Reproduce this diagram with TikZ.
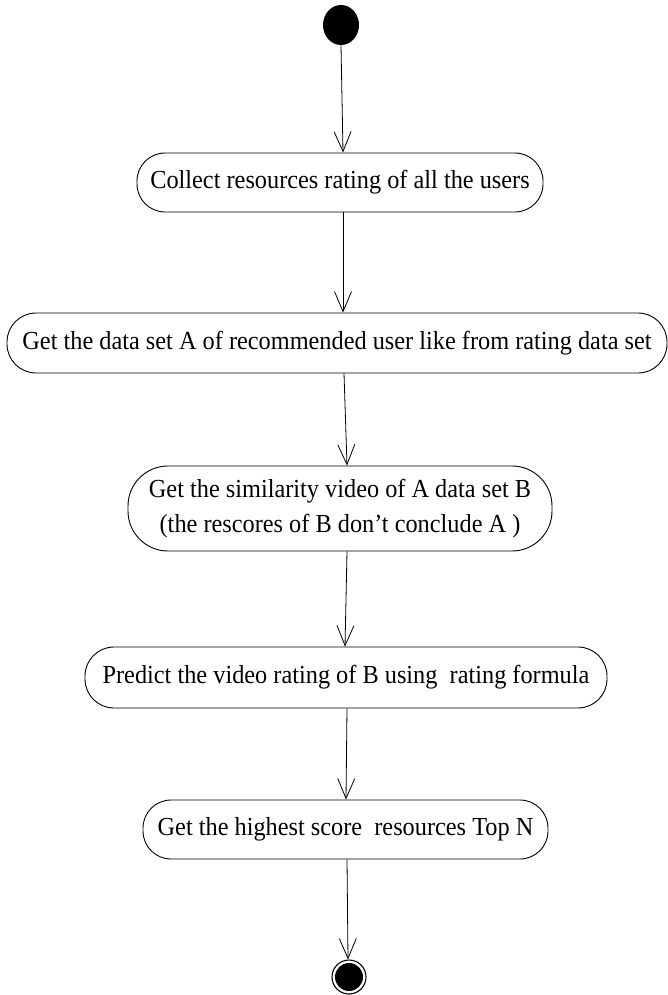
\documentclass[tikz,border=0pt]{standalone}
\usepackage{fontspec}
\setmainfont{Liberation Serif}
\newfontfamily\labelfont[FakeStretch=0.935]{Liberation Serif}
\usetikzlibrary{arrows.meta,shapes.geometric}

\tikzset{
  activity/.style={draw, line width=0.9pt, rounded corners=#1, inner sep=0pt,
    align=center, font=\labelfont\fontsize{26}{35}\selectfont},
  flow/.style={draw, line width=0.8pt,
    -{Straight Barb[length=20pt,width=17pt,line width=0.8pt]}},
}

\begin{document}
\begin{tikzpicture}[x=1pt,y=-1pt]
  \useasboundingbox (0,0) rectangle (668,995);

  % initial state
  \node[ellipse, fill=black, minimum width=36pt, minimum height=40pt, inner sep=0pt]
    (start) at (341,25) {};

  % activities
  \node[activity=28pt, minimum width=406pt, minimum height=59pt] (b1) at (340,182.5)
    {Collect resources rating of all the users};
  \node[activity=29pt, minimum width=660pt, minimum height=60pt] (b2) at (337,343)
    {Get the data set A of recommended user like from rating data set};
  \node[activity=40pt, minimum width=424pt, minimum height=85pt] (b3) at (340,508.5)
    {Get the similarity video of A data set B\\(the rescores of B don’t conclude A )};
  \node[activity=29pt, minimum width=522pt, minimum height=61pt] (b4) at (346,677.5)
    {Predict the video rating of B using~ rating formula};
  \node[activity=28pt, minimum width=405pt, minimum height=59pt] (b5) at (345.5,829.5)
    {Get the highest score~ resources Top N};

  % final state
  \node[circle, draw, line width=1.1pt, minimum size=34pt, inner sep=0pt] (end) at (349,977) {};
  \node[circle, fill=black, minimum size=28pt, inner sep=0pt] (endin) at (end) {};

  % control flow
  \draw[flow] (start.south) -- ([xshift=3pt]b1.north);
  \draw[flow] ([xshift=3pt]b1.south) -- ([xshift=6pt]b2.north);
  \draw[flow] ([xshift=7pt]b2.south) -- ([xshift=7pt]b3.north);
  \draw[flow] ([xshift=7pt]b3.south) -- ([xshift=-1pt]b4.north);
  \draw[flow] ([xshift=1pt]b4.south) -- ([xshift=0.5pt]b5.north);
  \draw[flow] ([xshift=1.5pt]b5.south) -- ([xshift=-1pt]end.north);
\end{tikzpicture}
\end{document}
